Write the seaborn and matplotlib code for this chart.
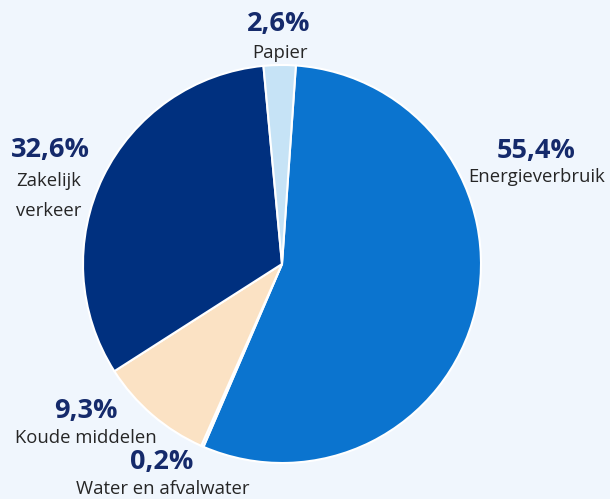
import matplotlib
matplotlib.use("Agg")
import matplotlib.pyplot as plt
import seaborn as sns

categories = ["Energieverbruik", "Water en afvalwater", "Koude middelen", "Zakelijk\nverkeer", "Papier"]
values = [55.4, 0.2, 9.3, 32.6, 2.6]
pct_labels = ["55,4%", "0,2%", "9,3%", "32,6%", "2,6%"]
colors = ["#0b74cf", "#dfe8f1", "#fbe2c4", "#00307f", "#c6e3f6"]

sns.set_theme(style="white")
plt.rcParams["font.family"] = ["Open Sans", "DejaVu Sans"]

bg = "#f0f6fd"
fig = plt.figure(figsize=(6.10, 4.99), dpi=100, facecolor=bg)
ax = fig.add_axes([0, 0, 1, 1])
ax.set_facecolor(bg)

H = 499
ax.pie(values, colors=colors, startangle=86, counterclock=False,
       center=(282, H - 264), radius=199, frame=True,
       wedgeprops=dict(edgecolor="white", linewidth=1.5))
ax.set_xlim(0, 610)
ax.set_ylim(0, 499)
ax.set_aspect("equal")
ax.axis("off")

# label positions in pixel coords (pct center, label first-line center)
pos = {
    0: ((536, 151), (537, 177)),
    1: ((162, 462), (163, 489)),
    2: ((86, 411), (86, 438)),
    3: ((50, 150), (49, 181)),
    4: ((279, 24), (280, 53)),
}
pct_color = "#152a6b"
lab_color = "#262626"
for i in range(len(values)):
    (px, py), (lx, ly) = pos[i]
    ax.text(px, H - py, pct_labels[i], ha="center", va="center",
            fontsize=19.5, fontweight="bold", color=pct_color)
    for k, line in enumerate(categories[i].split("\n")):
        ax.text(lx, H - (ly + 30 * k), line, ha="center", va="center",
                fontsize=13.3, color=lab_color)

fig.savefig("out.png", dpi=100, facecolor=bg)
